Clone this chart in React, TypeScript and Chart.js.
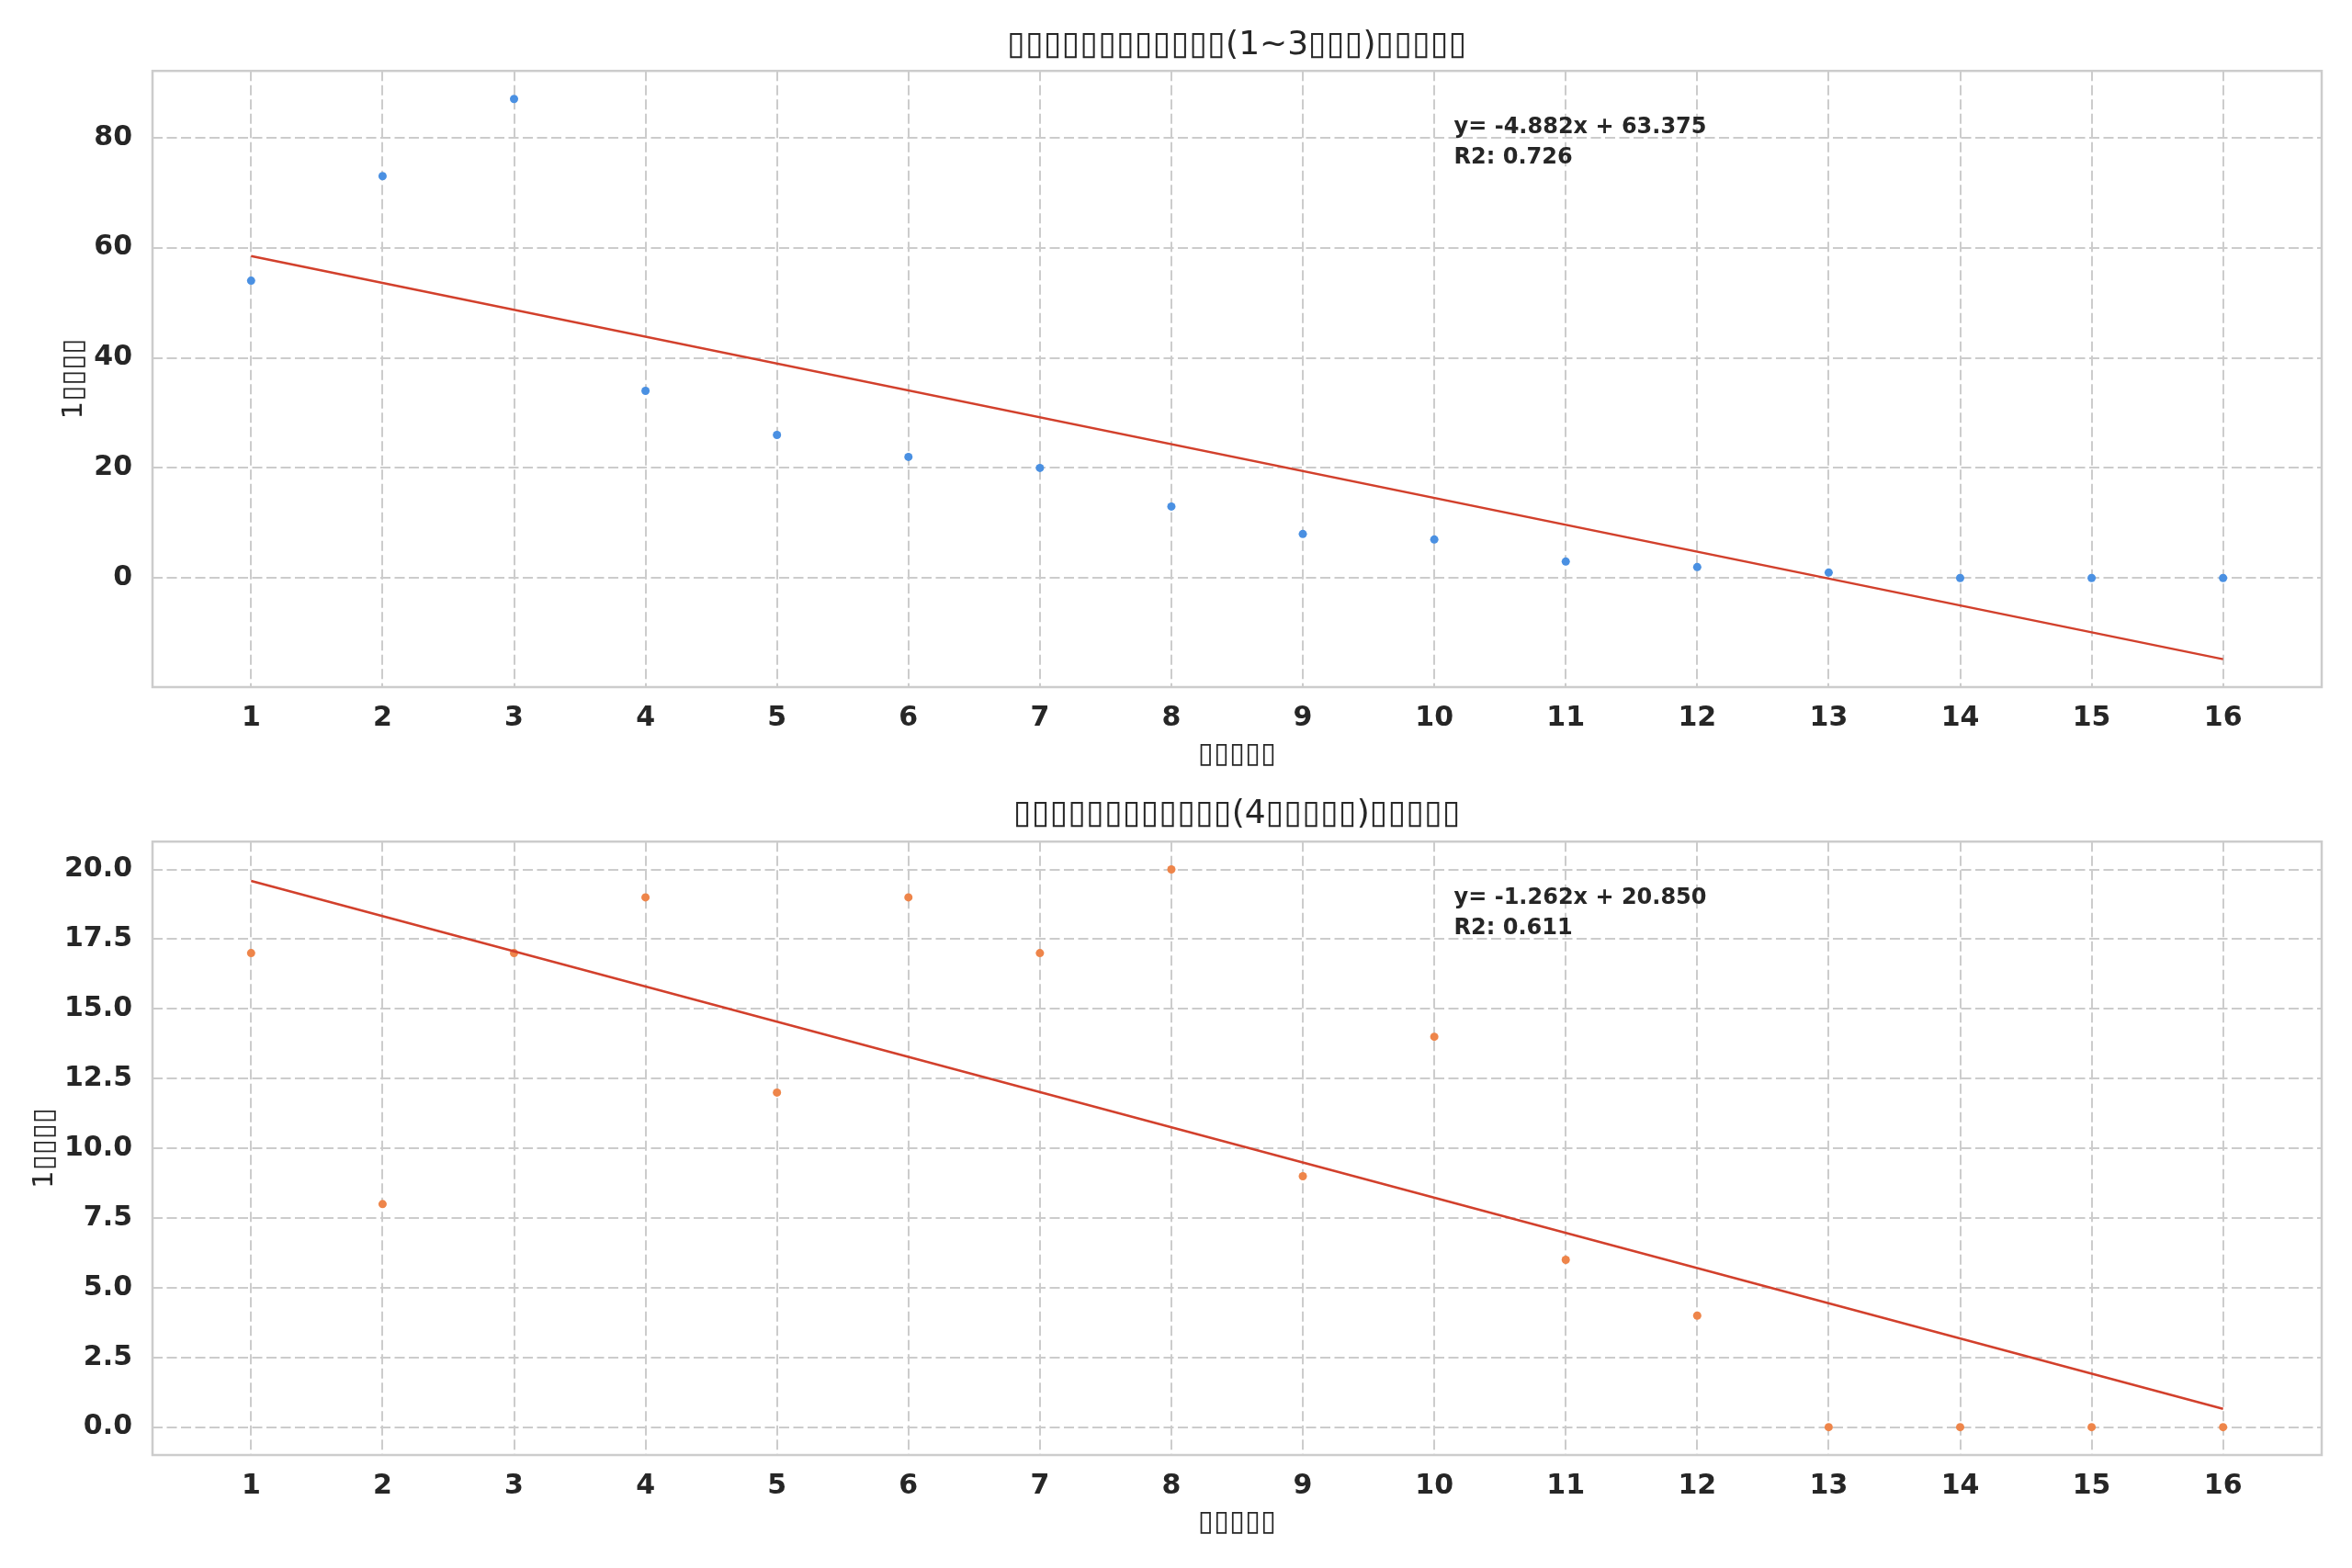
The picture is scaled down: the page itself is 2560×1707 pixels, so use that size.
import { useEffect, useRef } from "react";
import { Chart, registerables } from "chart.js";

Chart.register(...registerables);

// datos
const days = [1, 2, 3, 4, 5, 6, 7, 8, 9, 10, 11, 12, 13, 14, 15, 16];
const shortValues = [54, 73, 87, 34, 26, 22, 20, 13, 8, 7, 3, 2, 1, 0, 0, 0];
const longValues = [17, 8, 17, 19, 12, 19, 17, 20, 9, 14, 6, 4, 0, 0, 0, 0];

const shortFit = [-4.882, 63.375, 0.726]; // pendiente, intercepto, R2
const longFit = [-1.262, 20.85, 0.611];

const shortYTicks = [0, 20, 40, 60, 80];
const longYTicks = [0, 2.5, 5, 7.5, 10, 12.5, 15, 17.5, 20];

const shortTitle = "▯▯▯▯▯▯▯▯▯▯▯▯(1~3▯▯▯)▯▯▯▯▯";
const longTitle = "▯▯▯▯▯▯▯▯▯▯▯▯(4▯▯▯▯▯)▯▯▯▯▯";
const xTitle = "▯▯▯▯▯";
const yTitle = "1▯▯▯▯";

const FONT = "'DejaVu Sans', sans-serif";
const TEXT = "#262626";
const GRID = "#cccccc";

const framePlugin = {
  id: "frame",
  afterDraw(chart: any) {
    const { ctx, chartArea } = chart;
    ctx.save();
    ctx.strokeStyle = GRID;
    ctx.lineWidth = 2.5;
    ctx.strokeRect(chartArea.left, chartArea.top, chartArea.right - chartArea.left, chartArea.bottom - chartArea.top);
    ctx.restore();
  },
};

const fitTextPlugin = {
  id: "fitText",
  afterDraw(chart: any, _args: any, opts: any) {
    const { ctx, chartArea } = chart;
    const x = chartArea.left + (chartArea.right - chartArea.left) * 0.6;
    ctx.save();
    ctx.fillStyle = TEXT;
    ctx.font = `bold 24px ${FONT}`;
    ctx.textAlign = "left";
    ctx.textBaseline = "alphabetic";
    ctx.fillText(opts.line1, x, chartArea.top + 68);
    ctx.fillText(opts.line2, x, chartArea.top + 101);
    ctx.restore();
  },
};

type PanelProps = {
  title: string;
  values: number[];
  fit: number[];
  color: string;
  yMin: number;
  yMax: number;
  yTicks: number[];
  decimals: number;
  height: number;
  titlePad: { top: number; bottom: number };
  yTitlePad: number;
};

const Panel = (p: PanelProps) => {
  const canvasRef = useRef<HTMLCanvasElement>(null);

  useEffect(() => {
    if (!canvasRef.current) return;
    const [slope, intercept, r2] = p.fit;
    const first = days[0];
    const last = days[days.length - 1];
    const sign = intercept >= 0 ? "+" : "-";

    const chart = new Chart(canvasRef.current, {
      type: "scatter",
      data: {
        datasets: [
          {
            data: [
              { x: first, y: slope * first + intercept },
              { x: last, y: slope * last + intercept },
            ],
            showLine: true,
            borderColor: "#d2402c",
            borderWidth: 2.5,
            pointRadius: 0,
          },
          {
            data: days.map((d, i) => ({ x: d, y: p.values[i] })),
            backgroundColor: p.color,
            pointBackgroundColor: p.color,
            pointBorderWidth: 0,
            pointRadius: 4.5,
          },
        ],
      },
      options: {
        responsive: false,
        animation: false,
        devicePixelRatio: 1,
        layout: { padding: { left: 0, right: 33, top: 0, bottom: 0 } },
        plugins: {
          legend: { display: false },
          tooltip: { enabled: false },
          title: {
            display: true,
            fullSize: false,
            text: p.title,
            color: TEXT,
            font: { family: FONT, size: 36, weight: "normal" },
            padding: p.titlePad,
          },
          fitText: {
            line1: `y= ${slope.toFixed(3)}x ${sign} ${Math.abs(intercept).toFixed(3)}`,
            line2: `R2: ${r2.toFixed(3)}`,
          },
        } as any,
        scales: {
          x: {
            type: "linear",
            min: 0.25,
            max: 16.75,
            afterBuildTicks: (s: any) => {
              s.ticks = days.map((v) => ({ value: v }));
            },
            afterFit: (s: any) => {
              s.height = 105;
            },
            grid: { color: GRID, lineWidth: 2, drawTicks: false },
            border: { display: false, dash: [11, 4.5] },
            ticks: {
              color: TEXT,
              padding: 16,
              font: { family: FONT, size: 30, weight: "bold" },
              callback: (v: any) => String(v),
            },
            title: {
              display: true,
              text: xTitle,
              color: TEXT,
              font: { family: FONT, size: 31, weight: "normal" },
              padding: { top: 0, bottom: 12 },
            },
          },
          y: {
            type: "linear",
            min: p.yMin,
            max: p.yMax,
            afterBuildTicks: (s: any) => {
              s.ticks = p.yTicks.map((v) => ({ value: v }));
            },
            afterFit: (s: any) => {
              s.width = 166;
            },
            grid: { color: GRID, lineWidth: 2, drawTicks: false },
            border: { display: false, dash: [11, 4.5] },
            ticks: {
              color: TEXT,
              padding: 22,
              font: { family: FONT, size: 30, weight: "bold" },
              callback: (v: any) => Number(v).toFixed(p.decimals),
            },
            title: {
              display: true,
              text: yTitle,
              color: TEXT,
              font: { family: FONT, size: 31, weight: "normal" },
              padding: { top: p.yTitlePad, bottom: 0 },
            },
          },
        },
      },
      plugins: [framePlugin, fitTextPlugin],
    });

    return () => {
      chart.destroy();
    };
  }, []);

  return (
    <canvas
      ref={canvasRef}
      width={2560}
      height={p.height}
      style={{ display: "block", width: 2560, height: p.height }}
    />
  );
};

const App = () => {
  return (
    <div style={{ position: "absolute", left: 0, top: 0, width: 2560, height: 1707, background: "#fff" }}>
      <Panel
        title={shortTitle}
        values={shortValues}
        fit={shortFit}
        color="#4a90e2"
        yMin={-19.8}
        yMax={92.1}
        yTicks={shortYTicks}
        decimals={0}
        height={853}
        titlePad={{ top: 28, bottom: 6 }}
        yTitlePad={62}
      />
      <Panel
        title={longTitle}
        values={longValues}
        fit={longFit}
        color="#ee854a"
        yMin={-1}
        yMax={21}
        yTicks={longYTicks}
        decimals={1}
        height={836}
        titlePad={{ top: 12, bottom: 8 }}
        yTitlePad={30}
      />
    </div>
  );
};

export default App;
